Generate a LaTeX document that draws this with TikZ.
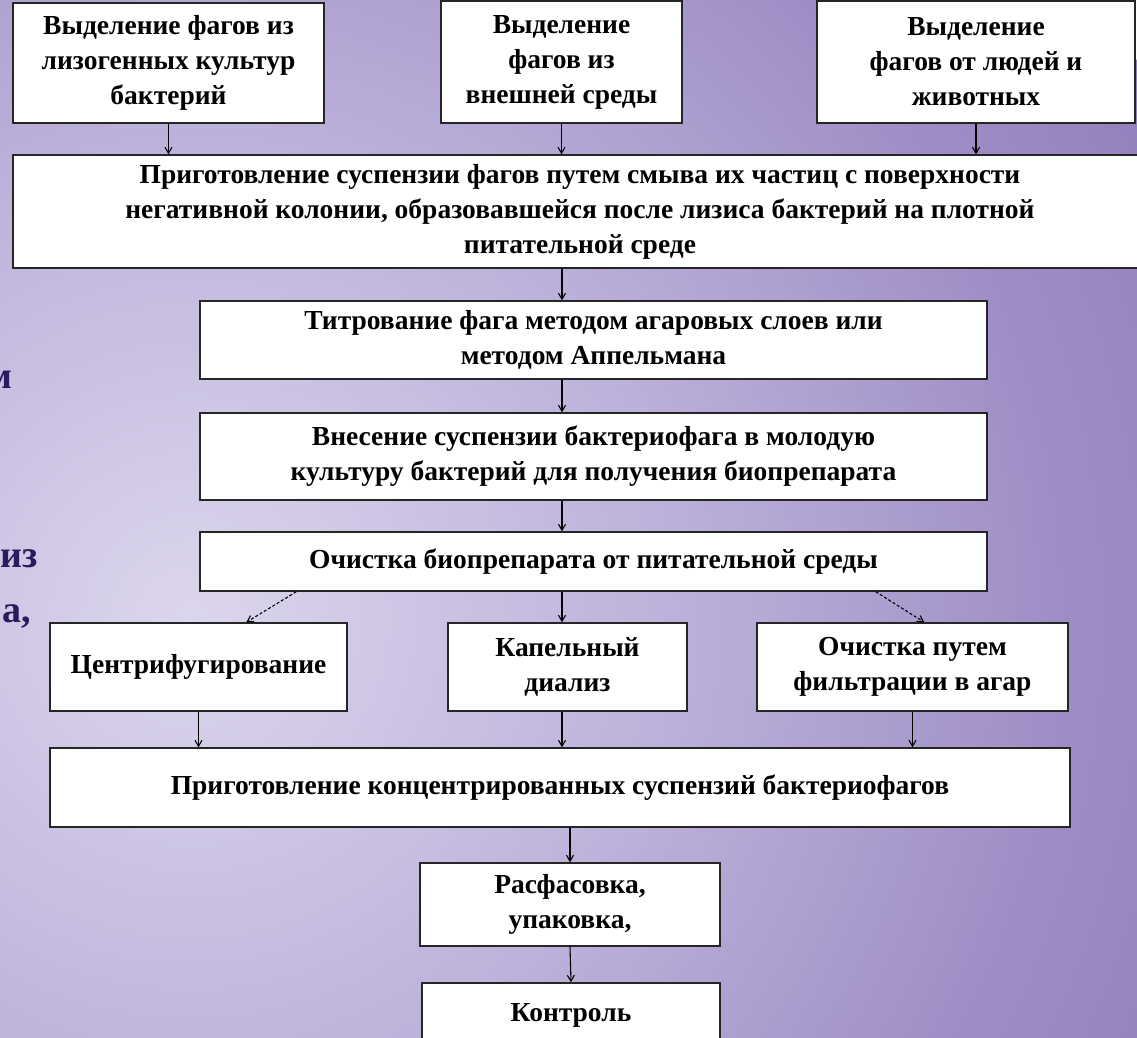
\documentclass[tikz,border=0pt]{standalone}
\usepackage{fontspec}
\setmainfont{Liberation Serif}
\usetikzlibrary{arrows.meta}
\definecolor{bgA}{HTML}{DCD6EC}
\definecolor{bgB}{HTML}{BCB1DA}
\definecolor{bgC}{HTML}{9E8DC5}
\definecolor{bgD}{HTML}{9280BC}
\definecolor{navy}{HTML}{2A1B5E}
\pgfdeclareradialshading{bgshade}{\pgfpoint{0bp}{0bp}}{color(0bp)=(bgA); color(11bp)=(bgB); color(20bp)=(bgC); color(25bp)=(bgD); color(50bp)=(bgD)}
\newcommand\boxfont{\fontsize{27.5}{35}\selectfont\bfseries}
\newcommand\sidefont{\fontsize{38}{40}\selectfont\bfseries}
\begin{document}
\begin{tikzpicture}[x=1pt,y=-1pt,
  box/.style={draw=black!85, line width=1.4pt, fill=white, font=\boxfont, align=center, inner sep=0pt},
  arr/.style={line width=1.1pt, -{Straight Barb[length=6pt,width=7pt]}},
  darr/.style={arr, densely dashed},
  side/.style={font=\sidefont, text=navy, anchor=base west, inner sep=0pt}
]
\useasboundingbox (0,0) rectangle (1137,1038);
\begin{scope}
\clip (0,0) rectangle (1137,1038);
\shade[shading=bgshade] (190,620) circle (1100pt);
\end{scope}
% side text fragments
\node[side] (L1) at (-14,388) {м};
\node[side] (L2) at (0,567) {из};
\node[side] (L3) at (2,622) {а,};
% boxes
\node[box, minimum width=311pt, minimum height=120pt] (B1) at (168.5,63) {Выделение фагов из\\лизогенных культур\\бактерий};
\node[box, minimum width=241pt, minimum height=122pt] (B2) at (561.5,62) {Выделение\\фагов из\\внешней среды};
\node[box, minimum width=318pt, minimum height=122pt] (B3) at (976,62) {Выделение\\фагов от людей и\\животных};
\node[box, minimum width=1134pt, minimum height=113pt] (B4) at (580,211.5) {Приготовление  суспензии фагов путем смыва их частиц с поверхности\\негативной колонии,  образовавшейся после лизиса бактерий на плотной\\питательной среде};
\node[box, minimum width=787pt, minimum height=78pt] (B5) at (593.5,340) {Титрование фага методом агаровых слоев или\\методом Аппельмана};
\node[box, minimum width=787pt, minimum height=87pt] (B6) at (593.5,456.5) {Внесение суспензии бактериофага в молодую\\культуру бактерий для получения биопрепарата};
\node[box, minimum width=787pt, minimum height=59pt] (B7) at (593.5,561.5) {Очистка биопрепарата от питательной среды};
\node[box, minimum width=297pt, minimum height=88pt] (B8) at (198.5,667) {Центрифугирование};
\node[box, minimum width=239pt, minimum height=88pt] (B9) at (567.5,667) {Капельный\\диализ};
\node[box, minimum width=311pt, minimum height=88pt] (B10) at (912.5,667) {Очистка путем\\фильтрации в агар};
\node[box, minimum width=1020pt, minimum height=79pt] (B11) at (560,787.5) {Приготовление концентрированных  суспензий бактериофагов};
\node[box, minimum width=300pt, minimum height=83pt] (B12) at (570,904.5) {Расфасовка,\\упаковка,};
\node[box, minimum width=298pt, minimum height=64pt] (B13) at (571,1015) {Контроль};
\coordinate (ax) at (562,0);
% connectors
\draw[arr] (B1.south) -- (B1.south |- B4.north);
\draw[arr] (B2.south) -- (B2.south |- B4.north);
\draw[arr] (B3.south) -- (B3.south |- B4.north);
\draw[arr] (B4.south -| ax) -- (B5.north -| ax);
\draw[arr] (B5.south -| ax) -- (B6.north -| ax);
\draw[arr] (B6.south -| ax) -- (B7.north -| ax);
\draw[darr] ([xshift=97pt]B7.south west) -- ([xshift=197pt]B8.north west);
\draw[arr] (B7.south -| ax) -- (B9.north -| ax);
\draw[darr] ([xshift=-112pt]B7.south east) -- ([xshift=168pt]B10.north west);
\draw[arr] (B8.south) -- (B8.south |- B11.north);
\draw[arr] (B9.south -| ax) -- (B11.north -| ax);
\draw[arr] (B10.south) -- (B10.south |- B11.north);
\draw[arr] (B11.south -| B12.north) -- (B12.north);
\draw[arr] (B12.south) -- (B13.north);
\end{tikzpicture}
\end{document}
